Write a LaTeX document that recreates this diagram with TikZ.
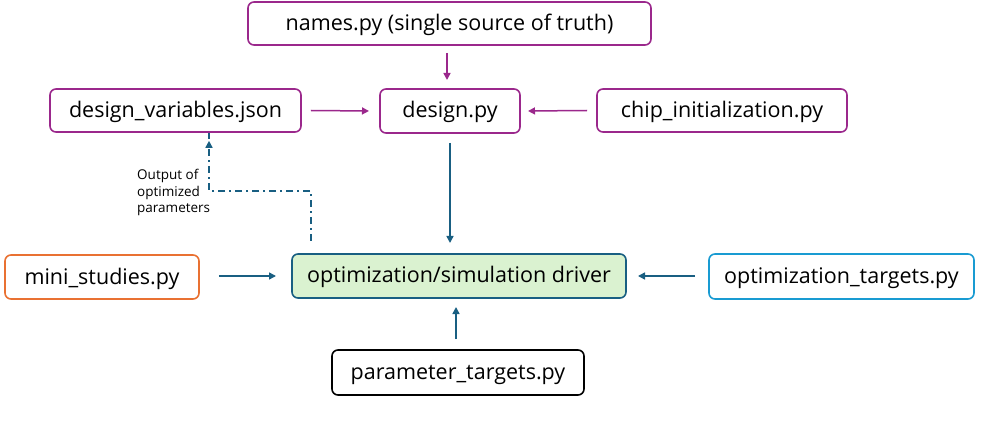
\documentclass[tikz,border=0pt]{standalone}
\usepackage{fontspec}
\setmainfont{Open Sans}
\usetikzlibrary{arrows.meta}
\definecolor{pur}{RGB}{155,40,140}
\definecolor{tealb}{RGB}{25,95,130}
\definecolor{orng}{RGB}{233,113,50}
\definecolor{lblue}{RGB}{25,155,210}
\definecolor{lgreen}{RGB}{218,242,208}
\tikzset{
  box/.style={draw, rounded corners=6pt, line width=1.6pt, inner sep=0pt, text height=17pt, text depth=3pt, font=\fontsize{21.5}{24}\selectfont, fill=white},
  parr/.style={draw=pur, line width=1.5pt, -{Triangle[width=7pt,length=7pt]}},
  barr/.style={draw=tealb, line width=1.5pt, -{Triangle[width=7pt,length=7pt]}},
}
\begin{document}
\begin{tikzpicture}[x=1pt,y=-1pt]
\useasboundingbox (0,0) rectangle (998,430);
\node[box, draw=pur, minimum width=403pt, minimum height=43pt] (names) at (449.5,23.5) {names.py (single source of truth)};
\node[box, draw=pur, minimum width=251pt, minimum height=43pt] (dvj) at (175.5,110.5) {design\_variables.json};
\node[box, draw=pur, minimum width=140pt, minimum height=44pt] (design) at (450,111) {design.py};
\node[box, draw=pur, minimum width=250pt, minimum height=43pt] (chip) at (722,110.5) {chip\_initialization.py};
\node[box, draw=tealb, fill=lgreen, minimum width=334pt, minimum height=44pt] (driver) at (459,276) {optimization/simulation driver};
\node[box, draw=orng, minimum width=194pt, minimum height=44pt] (mini) at (102,277) {mini\_studies.py};
\node[box, draw=lblue, minimum width=265pt, minimum height=45pt] (otg) at (841.5,276.5) {optimization\_targets.py};
\node[box, draw=black, minimum width=252pt, minimum height=45pt] (ptg) at (458,372.5) {parameter\_targets.py};
\node[font=\fontsize{13.5}{16.5}\selectfont, align=left, anchor=north west, inner sep=0pt] (lbl) at (137,169) {Output of\\optimized\\parameters};

\draw[parr] (names.south -| 447,0) ++(0,7) -- (447,80);
\draw[parr] (dvj.east) ++(9,0) -- (369,111);
\draw[parr] (chip.west) ++(-9,0) -- (528,111);
\draw[barr] (design.south) ++(0,9) -- (450,243);
\draw[barr] (mini.east) ++(19,-1) -- (276,276);
\draw[barr] (otg.west) ++(-13,-0.5) -- (638,276);
\draw[barr] (ptg.north -| 456,0) ++(0,-10) -- (456,307);
\coordinate (dstart) at (311,241);
\coordinate (dcorner) at (311,191);
\draw[tealb, line width=1.5pt, dash pattern=on 7pt off 4pt on 2pt off 4pt, -{Triangle[width=7pt,length=7pt]}] (dstart) -- (dcorner) -- (209,191) -- (dvj.south -| 209,0) ++(0,8);
\end{tikzpicture}
\end{document}
